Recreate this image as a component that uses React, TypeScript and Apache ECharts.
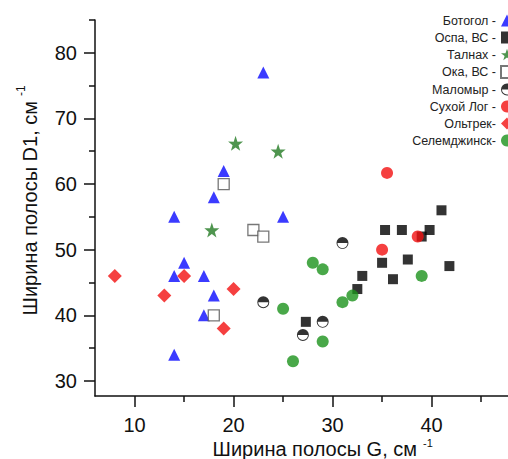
import React, { useEffect, useRef } from "react";
import * as echarts from "echarts";

// ---- data (G band width, D1 band width) ----
const botogol = [[23, 77], [19, 62], [18, 58], [14, 55], [25, 55], [15, 48], [14, 46], [17, 46], [18, 43], [17, 40], [14, 34]];
const ospa = [[27.3, 39], [32.5, 44], [33, 46], [35, 48], [35.3, 53], [36.1, 45.5], [37, 53], [37.6, 48.5], [39, 52], [39.8, 53], [41, 56], [41.8, 47.5]];
const talnakh = [[20.2, 66.2], [24.5, 65], [17.8, 53]];
const oka = [[19, 60], [22, 53], [23, 52], [18, 40]];
const malomyr = [[23, 42], [31, 51], [27, 37], [29, 39]];
const sukhoiLog = [[35.5, 61.7], [38.6, 52], [35, 50]];
const oltrek = [[8, 46], [13, 43], [15, 46], [20, 44], [19, 38]];
const selemdzhinsk = [[25, 41], [26, 33], [29, 36], [28, 48], [29, 47], [31, 42], [32, 43], [39, 46]];

const seriesNames = ["Ботогол -", "Оспа, ВС -", "Талнах -", "Ока, ВС -", "Маломыр -", "Сухой Лог -", "Ольтрек-", "Селемджинск-"];

const xMajor = [10, 20, 30, 40];
const xMinor = [15, 25, 35, 45];
const yMajor = [30, 40, 50, 60, 70, 80];
const yMinor = [35, 45, 55, 65, 75, 85];

const xTitle = "Ширина полосы G, см";
const yTitle = "Ширина полосы D1, см";
const sup = "-1";

const FONT = "'Liberation Sans', Arial, sans-serif";
const AX = "#111";

const STAR = "path://M50,0 L61.8,35.1 L97.6,34.5 L69,56.7 L79.4,90.5 L50,70 L20.6,90.5 L31,56.7 L2.4,34.5 L38.2,35.1 Z";
const HALF =
  "path://M0,10 A10,10 0 1 1 20,10 A10,10 0 1 1 0,10 Z M1.6,10 A8.4,8.4 0 1 0 18.4,10 A8.4,8.4 0 1 0 1.6,10 Z M1.6,10 A8.4,8.4 0 0 1 18.4,10 Z";

export default function App() {
  const ref = useRef<HTMLDivElement>(null);
  useEffect(() => {
    if (!ref.current) return;
    const chart = echarts.init(ref.current, null, { renderer: "svg" });
    const xRange = { min: 6, max: 47.72 };
    const yRange = { min: 27.7, max: 85 };
    const sc = (name: string, data: number[][], symbol: string, size: number, style: any) => ({
      type: "scatter",
      name,
      data,
      symbol,
      symbolSize: size,
      itemStyle: style,
      xAxisIndex: 0,
      yAxisIndex: 0,
    });
    chart.setOption({
      animation: false,
      backgroundColor: "#fff",
      grid: { left: 95, right: 0, top: 20, bottom: 63, containLabel: false },
      legend: {
        orient: "vertical",
        right: -6,
        top: 14,
        padding: 0,
        align: "right",
        itemWidth: 12,
        itemHeight: 12,
        itemGap: 4,
        selectedMode: false,
        data: seriesNames,
        textStyle: { fontSize: 12.5, color: "#222", fontFamily: FONT, lineHeight: 12 },
      },
      xAxis: [
        {
          type: "value",
          ...xRange,
          position: "bottom",
          axisLine: { show: true, onZero: false, lineStyle: { color: AX, width: 1.5 } },
          axisTick: { show: true, inside: false, length: 11, customValues: xMajor, lineStyle: { color: AX, width: 1.5 } },
          axisLabel: { show: true, customValues: xMajor, margin: 19, fontSize: 20, color: AX, fontFamily: FONT },
          splitLine: { show: false },
        },
        {
          type: "value",
          ...xRange,
          position: "bottom",
          axisLine: { show: false, onZero: false },
          axisTick: { show: true, inside: false, length: 6, customValues: xMinor, lineStyle: { color: AX, width: 1.5 } },
          axisLabel: { show: false },
          splitLine: { show: false },
        },
      ],
      yAxis: [
        {
          type: "value",
          ...yRange,
          position: "left",
          axisLine: { show: true, onZero: false, lineStyle: { color: AX, width: 1.5 } },
          axisTick: { show: true, inside: false, length: 11, customValues: yMajor, lineStyle: { color: AX, width: 1.5 } },
          axisLabel: { show: true, customValues: yMajor, margin: 18, fontSize: 20, color: AX, fontFamily: FONT },
          splitLine: { show: false },
        },
        {
          type: "value",
          ...yRange,
          position: "left",
          axisLine: { show: false, onZero: false },
          axisTick: { show: true, inside: false, length: 6, customValues: yMinor, lineStyle: { color: AX, width: 1.5 } },
          axisLabel: { show: false },
          splitLine: { show: false },
        },
      ],
      series: [
        sc(seriesNames[0], botogol, "triangle", 12, { color: "#0a0aff" }),
        sc(seriesNames[1], ospa, "rect", 10, { color: "#000" }),
        sc(seriesNames[2], talnakh, STAR, 15, { color: "#237a23" }),
        sc(seriesNames[3], oka, "rect", 11, { color: "#fff", borderColor: "#555", borderWidth: 1.3 }),
        sc(seriesNames[4], malomyr, HALF, 12, { color: "#000" }),
        sc(seriesNames[5], sukhoiLog, "circle", 12, { color: "#f21010" }),
        sc(seriesNames[6], oltrek, "diamond", 14, { color: "#f21010" }),
        sc(seriesNames[7], selemdzhinsk, "circle", 12, { color: "#1c921c" }),
      ],
      graphic: [
        {
          type: "text",
          x: 417,
          y: 449,
          style: { text: xTitle, fill: AX, fontSize: 20, fontFamily: FONT, align: "right", verticalAlign: "middle" },
        },
        {
          type: "text",
          x: 423,
          y: 443,
          style: { text: sup, fill: AX, fontSize: 11, fontFamily: FONT, align: "left", verticalAlign: "middle" },
        },
        {
          type: "text",
          x: 30,
          y: 101,
          rotation: Math.PI / 2,
          style: { text: yTitle, fill: AX, fontSize: 20, fontFamily: FONT, align: "right", verticalAlign: "middle" },
        },
        {
          type: "text",
          x: 21,
          y: 96,
          rotation: Math.PI / 2,
          style: { text: sup, fill: AX, fontSize: 12, fontFamily: FONT, align: "left", verticalAlign: "middle" },
        },
      ],
    });
    return () => chart.dispose();
  }, []);
  return <div ref={ref} style={{ width: 508, height: 459, position: "absolute", left: 0, top: 0 }} />;
}
